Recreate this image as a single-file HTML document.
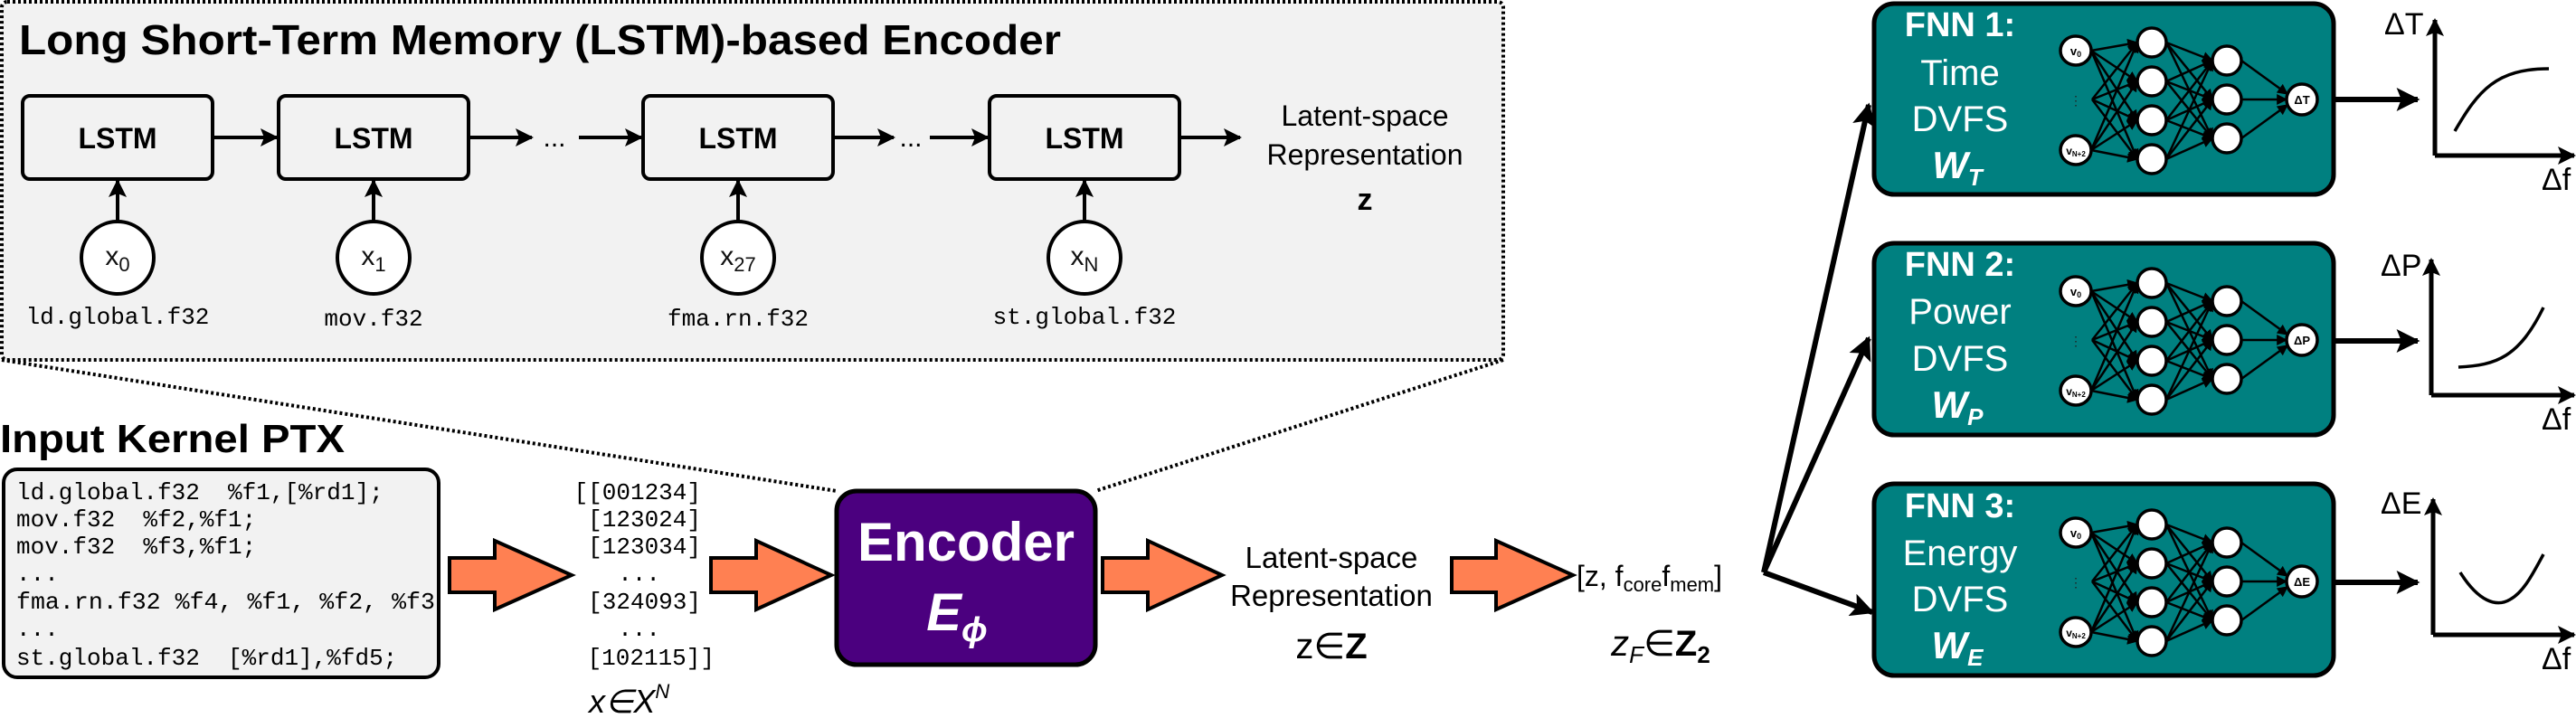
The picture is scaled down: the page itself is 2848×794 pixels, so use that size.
<!DOCTYPE html>
<html><head><meta charset="utf-8"><style>
html,body{margin:0;padding:0;background:#fff;}
svg{display:block;}
.t{font-family:"Liberation Sans",sans-serif;}
.m{font-family:"Liberation Mono",monospace;white-space:pre;}
</style></head><body>
<svg width="2848" height="794" viewBox="0 0 2848 794" xmlns="http://www.w3.org/2000/svg">
<defs>
<marker id="big" viewBox="0 0 10 10" markerWidth="26" markerHeight="26" refX="9" refY="5" orient="auto" markerUnits="userSpaceOnUse"><path d="M0,0 L10,5 L0,10 L2,5 z" fill="#000"/></marker>
<marker id="mid" viewBox="0 0 10 10" markerWidth="20" markerHeight="20" refX="9" refY="5" orient="auto" markerUnits="userSpaceOnUse"><path d="M0,0 L10,5 L0,10 L2,5 z" fill="#000"/></marker>
<marker id="sm" viewBox="0 0 10 10" markerWidth="12" markerHeight="12" refX="9" refY="5" orient="auto" markerUnits="userSpaceOnUse"><path d="M0,0 L10,5 L0,10 z" fill="#000"/></marker>
<g id="nn">
  <g stroke="#000" stroke-width="2.5" marker-end="url(#sm)">
    <line x1="2312" y1="56" x2="2363" y2="47"/><line x1="2312" y1="56" x2="2363" y2="90"/><line x1="2312" y1="56" x2="2363" y2="133"/><line x1="2312" y1="56" x2="2363" y2="176"/>
    <line x1="2313" y1="110" x2="2363" y2="47"/><line x1="2313" y1="110" x2="2363" y2="90"/><line x1="2313" y1="110" x2="2363" y2="133"/><line x1="2313" y1="110" x2="2363" y2="176"/>
    <line x1="2312" y1="166" x2="2363" y2="47"/><line x1="2312" y1="166" x2="2363" y2="90"/><line x1="2312" y1="166" x2="2363" y2="133"/><line x1="2312" y1="166" x2="2363" y2="176"/>
    <line x1="2395" y1="47" x2="2446" y2="67"/><line x1="2395" y1="47" x2="2446" y2="110"/><line x1="2395" y1="47" x2="2446" y2="153"/>
    <line x1="2395" y1="90" x2="2446" y2="67"/><line x1="2395" y1="90" x2="2446" y2="110"/><line x1="2395" y1="90" x2="2446" y2="153"/>
    <line x1="2395" y1="133" x2="2446" y2="67"/><line x1="2395" y1="133" x2="2446" y2="110"/><line x1="2395" y1="133" x2="2446" y2="153"/>
    <line x1="2395" y1="176" x2="2446" y2="67"/><line x1="2395" y1="176" x2="2446" y2="110"/><line x1="2395" y1="176" x2="2446" y2="153"/>
    <line x1="2478" y1="67" x2="2529" y2="104"/><line x1="2478" y1="110" x2="2528" y2="110"/><line x1="2478" y1="153" x2="2529" y2="116"/>
  </g>
  <g fill="#fff" stroke="#000" stroke-width="3.5">
    <ellipse cx="2295" cy="56" rx="17" ry="16"/><ellipse cx="2295" cy="166" rx="17" ry="16"/>
    <ellipse cx="2379" cy="47" rx="16" ry="16"/><ellipse cx="2379" cy="90" rx="16" ry="16"/><ellipse cx="2379" cy="133" rx="16" ry="16"/><ellipse cx="2379" cy="176" rx="16" ry="16"/>
    <ellipse cx="2462" cy="67" rx="16" ry="16"/><ellipse cx="2462" cy="110" rx="16" ry="16"/><ellipse cx="2462" cy="153" rx="16" ry="16"/>
    <ellipse cx="2545" cy="110" rx="17" ry="17"/>
  </g>
  <text class="t" x="2295" y="61" font-size="13" font-weight="bold" text-anchor="middle">v<tspan font-size="9" dy="2">0</tspan></text>
  <text class="t" x="2295" y="171" font-size="12" font-weight="bold" text-anchor="middle">v<tspan font-size="8" dy="2">N+2</tspan></text>
  <text class="t" x="2295" y="116" font-size="14" fill="#222" text-anchor="middle">⋮</text>
</g>
</defs>

<rect x="2" y="2" width="1660" height="396" rx="6" fill="#f2f2f2" stroke="#000" stroke-width="4" stroke-dasharray="3 3"/>
<line x1="2" y1="398" x2="925" y2="543" stroke="#000" stroke-width="4" stroke-dasharray="3 3"/>
<line x1="1662" y1="398" x2="1211" y2="543" stroke="#000" stroke-width="4" stroke-dasharray="3 3"/>
<text class="t" x="21" y="60" font-size="46" font-weight="bold" textLength="1152" lengthAdjust="spacingAndGlyphs">Long Short-Term Memory (LSTM)-based Encoder</text>

<g fill="#f2f2f2" stroke="#000" stroke-width="4">
<rect x="25" y="106" width="210" height="92" rx="8"/>
<rect x="308" y="106" width="210" height="92" rx="8"/>
<rect x="711" y="106" width="210" height="92" rx="8"/>
<rect x="1094" y="106" width="210" height="92" rx="8"/>
</g>
<g class="t" font-size="32" font-weight="bold" text-anchor="middle">
<text x="130" y="164">LSTM</text><text x="413" y="164">LSTM</text><text x="816" y="164">LSTM</text><text x="1199" y="164">LSTM</text>
</g>
<g stroke="#000" stroke-width="4" marker-end="url(#mid)">
<line x1="237" y1="152" x2="306" y2="152"/>
<line x1="520" y1="152" x2="588" y2="152"/>
<line x1="640" y1="152" x2="709" y2="152"/>
<line x1="923" y1="152" x2="988" y2="152"/>
<line x1="1028" y1="152" x2="1092" y2="152"/>
<line x1="1306" y1="152" x2="1371" y2="152"/>
<line x1="130" y1="245" x2="130" y2="200"/>
<line x1="413" y1="245" x2="413" y2="200"/>
<line x1="816" y1="245" x2="816" y2="200"/>
<line x1="1199" y1="245" x2="1199" y2="200"/>
</g>
<g class="t" font-size="30" text-anchor="middle"><text x="613" y="162">...</text><text x="1007" y="162">...</text></g>
<g fill="#fff" stroke="#000" stroke-width="4">
<circle cx="130" cy="285" r="40"/><circle cx="413" cy="285" r="40"/><circle cx="816" cy="285" r="40"/><circle cx="1199" cy="285" r="40"/>
</g>
<g class="t" font-size="30" fill="#111" text-anchor="middle">
<text x="130" y="293">x<tspan font-size="22" dy="7">0</tspan></text>
<text x="413" y="293">x<tspan font-size="22" dy="7">1</tspan></text>
<text x="816" y="293">x<tspan font-size="22" dy="7">27</tspan></text>
<text x="1199" y="293">x<tspan font-size="22" dy="7">N</tspan></text>
</g>
<g class="m" font-size="26" text-anchor="middle">
<text x="130" y="358">ld.global.f32</text>
<text x="413" y="360">mov.f32</text>
<text x="816" y="360">fma.rn.f32</text>
<text x="1199" y="358">st.global.f32</text>
</g>
<g class="t" font-size="32" text-anchor="middle">
<text x="1509" y="139">Latent-space</text>
<text x="1509" y="182">Representation</text>
<text x="1509" y="232" font-weight="bold" font-size="34">z</text>
</g>

<text class="t" x="0" y="500" font-size="44" font-weight="bold" textLength="381" lengthAdjust="spacingAndGlyphs">Input Kernel PTX</text>
<rect x="4" y="519" width="481" height="230" rx="15" fill="#f2f2f2" stroke="#000" stroke-width="4"/>
<g class="m" font-size="26">
<text x="18" y="552">ld.global.f32&#160;&#160;%f1,[%rd1];</text>
<text x="18" y="582">mov.f32&#160;&#160;%f2,%f1;</text>
<text x="18" y="612">mov.f32&#160;&#160;%f3,%f1;</text>
<text x="18" y="642">...</text>
<text x="18" y="673" textLength="463" lengthAdjust="spacingAndGlyphs">fma.rn.f32 %f4, %f1, %f2, %f3</text>
<text x="18" y="703">...</text>
<text x="18" y="735">st.global.f32&#160;&#160;[%rd1],%fd5;</text>
</g>
<g class="m" font-size="26" text-anchor="end">
<text x="775" y="552">[[001234]</text>
<text x="775" y="582">[123024]</text>
<text x="775" y="612">[123034]</text>
<text x="730" y="642">...</text>
<text x="775" y="673">[324093]</text>
<text x="730" y="703">...</text>
<text x="790" y="735">[102115]]</text>
</g>
<text class="t" x="651" y="788" font-size="36" font-style="italic">x∈X<tspan font-size="22" dy="-16">N</tspan></text>

<g fill="#ff8052" stroke="#000" stroke-width="4" stroke-linejoin="miter">
<polygon points="497,617 547,617 547,598 632,636 547,674 547,655 497,655"/>
<polygon points="786,617 836,617 836,598 919,636 836,674 836,655 786,655"/>
<polygon points="1219,617 1269,617 1269,598 1351,636 1269,674 1269,655 1219,655"/>
<polygon points="1605,617 1654,617 1654,598 1739,636 1654,674 1654,655 1605,655"/>
</g>

<rect x="925" y="543" width="286" height="192" rx="22" fill="#4b007f" stroke="#000" stroke-width="5"/>
<text class="t" x="1068" y="620" font-size="60" font-weight="bold" fill="#fff" text-anchor="middle">Encoder</text>
<text class="t" x="1058" y="697" font-size="58" font-weight="bold" font-style="italic" fill="#fff" text-anchor="middle">E<tspan font-size="38" dy="12">ϕ</tspan></text>

<g class="t" font-size="33" text-anchor="middle">
<text x="1472" y="628">Latent-space</text>
<text x="1472" y="670">Representation</text>
</g>
<text class="t" x="1472" y="728" font-size="40" text-anchor="middle">z∈<tspan font-weight="bold">Z</tspan></text>
<text class="t" x="1743" y="648" font-size="32">[z, f<tspan font-size="22" dy="6">core</tspan><tspan dy="-6">f</tspan><tspan font-size="22" dy="6">mem</tspan><tspan dy="-6">]</tspan></text>
<text class="t" x="1836" y="725" font-size="40" text-anchor="middle"><tspan font-style="italic">z</tspan><tspan font-size="26" font-style="italic" dy="8">F</tspan><tspan dy="-8">∈</tspan><tspan font-weight="bold">Z</tspan><tspan font-size="26" font-weight="bold" dy="8">2</tspan></text>

<g stroke="#000" stroke-width="6" marker-end="url(#big)">
<line x1="1950" y1="633" x2="2066" y2="116"/>
<line x1="1950" y1="633" x2="2066" y2="374"/>
<line x1="1950" y1="633" x2="2070" y2="677"/>
</g>

<g fill="#008080" stroke="#000" stroke-width="5">
<rect x="2072" y="4" width="508" height="211" rx="22"/>
<rect x="2072" y="269" width="508" height="212" rx="22"/>
<rect x="2072" y="535" width="508" height="212" rx="22"/>
</g>
<g class="t" fill="#fff" text-anchor="middle">
<text x="2167" y="40" font-size="38" font-weight="bold">FNN 1:</text>
<text x="2167" y="94" font-size="40">Time</text>
<text x="2167" y="145" font-size="40">DVFS</text>
<text x="2164" y="197" font-size="42" font-weight="bold" font-style="italic">W<tspan font-size="26" dy="8">T</tspan></text>
<text x="2167" y="305" font-size="38" font-weight="bold">FNN 2:</text>
<text x="2167" y="358" font-size="40">Power</text>
<text x="2167" y="410" font-size="40">DVFS</text>
<text x="2164" y="462" font-size="42" font-weight="bold" font-style="italic">W<tspan font-size="26" dy="8">P</tspan></text>
<text x="2167" y="572" font-size="38" font-weight="bold">FNN 3:</text>
<text x="2167" y="625" font-size="40">Energy</text>
<text x="2167" y="676" font-size="40">DVFS</text>
<text x="2164" y="728" font-size="42" font-weight="bold" font-style="italic">W<tspan font-size="26" dy="8">E</tspan></text>
</g>
<use href="#nn"/>
<use href="#nn" transform="translate(0,266)"/>
<use href="#nn" transform="translate(0,533)"/>
<g class="t" font-size="13" font-weight="bold" text-anchor="middle">
<text x="2545" y="115">ΔT</text><text x="2545" y="381">ΔP</text><text x="2545" y="648">ΔE</text>
</g>

<g stroke="#000" stroke-width="6" marker-end="url(#big)">
<line x1="2582" y1="110" x2="2673" y2="110"/>
<line x1="2582" y1="377" x2="2673" y2="377"/>
<line x1="2582" y1="644" x2="2673" y2="644"/>
</g>
<g stroke="#000" stroke-width="5" fill="none" marker-end="url(#mid)">
<polyline points="2692,172 2692,22"/><polyline points="2692,172 2846,172"/>
<polyline points="2688,437 2688,287"/><polyline points="2688,437 2846,437"/>
<polyline points="2690,702 2690,552"/><polyline points="2690,702 2846,702"/>
</g>
<g stroke="#000" stroke-width="3.5" fill="none">
<path d="M2714,145 C2740,100 2760,76 2818,76"/>
<path d="M2718,406 C2760,404 2785,395 2812,340"/>
<path d="M2720,633 C2740,665 2760,672 2775,663 C2790,655 2800,635 2812,613"/>
</g>
<g class="t" font-size="34">
<text x="2636" y="38">ΔT</text><text x="2810" y="210">Δf</text>
<text x="2632" y="305">ΔP</text><text x="2810" y="475">Δf</text>
<text x="2632" y="568">ΔE</text><text x="2810" y="740">Δf</text>
</g>
</svg>
</body></html>
